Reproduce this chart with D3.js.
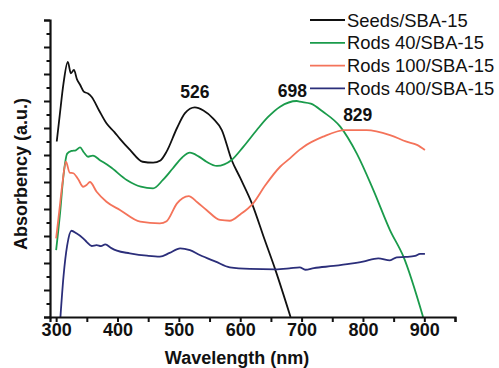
<!DOCTYPE html>
<html>
<head>
<meta charset="utf-8">
<script src="https://cdn.jsdelivr.net/npm/d3@7"></script>
<style>
  body { margin: 0; background: #fff; }
  svg { font-family: "Liberation Sans", Arial, sans-serif; }
  .tick text { font-weight: bold; font-size: 18px; fill: #111; }
  .axis-title { font-weight: bold; font-size: 18px; fill: #111; }
  .legend text { font-size: 18.4px; fill: #111; }
  .peak { font-weight: bold; font-size: 17.5px; fill: #111; }
</style>
</head>
<body>
<svg width="499" height="368"></svg>
<script>
// data (wavelength in nm, absorbency in a.u.)
const seriesNames = ['Seeds/SBA-15', 'Rods 40/SBA-15', 'Rods 100/SBA-15', 'Rods 400/SBA-15'];
const seriesColors = ['#111111', '#1a9b4b', '#f4735a', '#2b2e7a'];

const seedsWl = [301, 306, 312, 319, 324, 329, 334, 339, 345, 352, 358, 370, 382, 395, 404, 420, 441, 458, 470, 480, 497, 510, 526, 540, 556, 570, 586, 600, 619, 640, 657, 682];
const seedsAbs = [13.0, 15.0, 17.3, 18.9, 18.05, 18.3, 17.6, 17.2, 16.7, 16.55, 16.3, 15.3, 14.35, 13.7, 13.2, 12.4, 11.5, 11.43, 11.6, 12.25, 14.0, 15.1, 15.53, 15.3, 14.7, 13.85, 11.63, 10.3, 8.42, 5.7, 3.53, 0];

const rods40Wl = [300, 306, 312, 318, 325, 332, 339, 345, 352, 360, 372, 388, 415, 438, 458, 474, 490, 505, 518, 532, 545, 562, 586, 605, 627, 645, 665, 692, 697, 715, 735, 763, 790, 817, 844, 866, 898];
const rods40Abs = [4.96, 7.5, 10.5, 12.1, 12.3, 12.35, 12.57, 12.2, 11.87, 11.95, 11.6, 11.13, 10.15, 9.65, 9.53, 10.15, 11.0, 11.8, 12.17, 11.9, 11.5, 11.19, 11.63, 12.6, 13.85, 14.8, 15.58, 16.0, 15.95, 15.8, 15.2, 14.1, 12.1, 9.4, 6.44, 4.47, 0];

const rods100Wl = [300, 305, 310, 316, 322, 328, 336, 344, 350, 355, 366, 382, 404, 437, 469, 480, 497, 506, 516, 530, 545, 567, 583, 600, 621, 640, 665, 681, 697, 703, 735, 771, 806, 844, 871, 888, 901];
const rods100Abs = [5.83, 7.8, 9.8, 11.5, 10.7, 10.65, 10.2, 9.65, 9.8, 10.0, 9.28, 8.54, 7.93, 7.06, 6.94, 7.1, 8.42, 8.8, 8.96, 8.5, 7.93, 7.19, 7.13, 7.6, 8.42, 9.7, 11.13, 11.75, 12.4, 12.6, 13.36, 13.85, 13.85, 13.48, 12.99, 12.75, 12.37];

const rods400Wl = [307, 312, 318, 325, 333, 344, 350, 358, 366, 373, 380, 390, 399, 420, 448, 469, 485, 502, 518, 534, 560, 583, 616, 657, 680, 697, 706, 720, 752, 780, 800, 825, 844, 855, 870, 885, 893, 901];
const rods400Abs = [0, 3.0, 5.3, 6.39, 6.2, 5.83, 5.55, 5.26, 5.32, 5.25, 5.38, 5.1, 4.91, 4.72, 4.54, 4.47, 4.75, 5.09, 4.95, 4.59, 4.1, 3.68, 3.56, 3.53, 3.6, 3.68, 3.5, 3.62, 3.78, 3.95, 4.1, 4.35, 4.2, 4.42, 4.45, 4.52, 4.67, 4.67];

const peakLabels = ['526', '698', '829'];
const peakWl = [526, 698, 829];
const peakAbs = [16.2, 16.3, 14.5];

const xTicks = [300, 350, 400, 450, 500, 550, 600, 650, 700, 750, 800, 850, 900, 950];
const yTicks = d3.range(0, 23);

const svg = d3.select('svg');

const xScale = d3.scaleLinear().domain([290, 950]).range([50, 455]);
const yScale = d3.scaleLinear().domain([0, 22]).range([317, 20]);

const series = seriesNames.map((name, i) => {
    const wl = [seedsWl, rods40Wl, rods100Wl, rods400Wl][i];
    const ab = [seedsAbs, rods40Abs, rods100Abs, rods400Abs][i];
    return { name, color: seriesColors[i], values: wl.map((w, j) => ({ w, a: ab[j] })) };
});

const line = d3.line()
    .x(d => xScale(d.w))
    .y(d => yScale(d.a))
    .curve(d3.curveMonotoneX);

svg.append('g').selectAll('path').data(series)
    .enter().append('path')
        .attr('d', d => line(d.values))
        .attr('fill', 'none')
        .attr('stroke', d => d.color)
        .attr('stroke-width', 1.8)
        .attr('stroke-linejoin', 'round');

// x axis
const xAxisG = svg.append('g')
    .attr('transform', `translate(0, ${yScale(0)})`)
    .call(d3.axisBottom(xScale)
        .tickValues(xTicks)
        .tickSize(5)
        .tickPadding(1)
        .tickFormat(d => (d % 100 === 0 && d <= 900) ? d : ''));
xAxisG.select('.domain').attr('stroke-width', 2.2).attr('stroke', '#111');
xAxisG.selectAll('.tick line').attr('stroke-width', 2).attr('stroke', '#111');
xAxisG.selectAll('.tick text').attr('font-family', null).attr('font-size', null);

// y axis, long ticks on even values
const yAxisG = svg.append('g')
    .attr('transform', `translate(${xScale(290)}, 0)`)
    .call(d3.axisLeft(yScale).tickValues(yTicks).tickFormat(''));
yAxisG.select('.domain').attr('stroke-width', 2.2).attr('stroke', '#111');
yAxisG.selectAll('.tick line')
    .attr('x2', d => d % 2 === 0 ? -6 : -3.5)
    .attr('stroke-width', 2)
    .attr('stroke', '#111');

// axis titles
svg.append('text')
    .attr('class', 'axis-title')
    .attr('text-anchor', 'middle')
    .attr('x', 237)
    .attr('y', 364)
    .text('Wavelength (nm)');

svg.append('text')
    .attr('class', 'axis-title')
    .attr('text-anchor', 'middle')
    .attr('transform', 'translate(27, 174) rotate(-90)')
    .text('Absorbency (a.u.)');

// peak labels
const peakShift = [0, -8, -23];
svg.append('g').selectAll('text').data(peakLabels)
    .enter().append('text')
        .attr('class', 'peak')
        .attr('text-anchor', 'middle')
        .attr('x', (d, i) => xScale(peakWl[i]) + peakShift[i])
        .attr('y', (d, i) => yScale(peakAbs[i]))
        .text(d => d);

// legend
const legend = svg.append('g').attr('class', 'legend');
const legendRows = legend.selectAll('g').data(series)
    .enter().append('g')
        .attr('transform', (d, i) => `translate(310, ${20 + i * 22.8})`);
legendRows.append('line')
    .attr('x1', 0).attr('x2', 35)
    .attr('stroke', d => d.color)
    .attr('stroke-width', 1.8);
legendRows.append('text')
    .attr('x', 37)
    .attr('y', 6.5)
    .text(d => d.name);
</script>
</body>
</html>
